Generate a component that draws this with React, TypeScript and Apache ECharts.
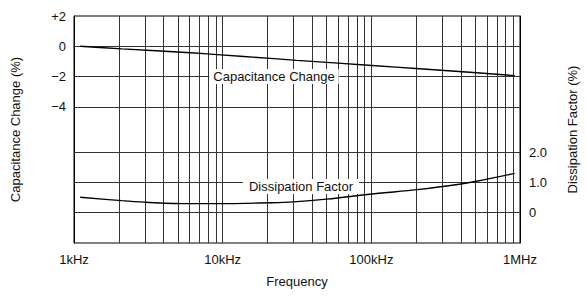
import React, { useEffect, useRef } from "react";
import * as echarts from "echarts";

// Capacitance change (%) vs frequency (Hz)
const capFreq = [1100, 2100, 6050, 9200, 21000, 31500, 101000, 211000, 512000, 922000];
const capValues = [0, -0.17, -0.43, -0.55, -0.8, -0.93, -1.27, -1.49, -1.75, -1.94];

// Dissipation factor (%) vs frequency (Hz)
const dfFreq = [1100, 2100, 3200, 6000, 9200, 21000, 30000, 50000, 101000, 211000, 400000, 510000, 920000];
const dfValues = [0.51, 0.4, 0.34, 0.3, 0.3, 0.33, 0.36, 0.45, 0.62, 0.77, 0.95, 1.04, 1.3];

// Grid lines
const verticalGridFreqs = [
  2000, 3000, 4000, 5000, 6000, 7000, 8000, 9000, 10000,
  20000, 30000, 40000, 50000, 60000, 70000, 80000, 90000, 100000,
  200000, 300000, 400000, 500000, 600000, 700000, 800000, 900000,
];
const capGridValues = [0, -2, -4];
const dfGridValues = [0, 1, 2];

// Tick labels
const freqTickLabels: Record<number, string> = { 1000: "1kHz", 10000: "10kHz", 100000: "100kHz", 1000000: "1MHz" };
const capTickLabels: Record<number, string> = { 2: "+2", 0: "0", "-2": "\u22122", "-4": "\u22124" } as any;
const dfTickLabels: Record<number, string> = { 0: "0", 1: "1.0", 2: "2.0" };

const FONT = "Liberation Sans, Arial, Helvetica, sans-serif";
const GRID_COLOR = "#333";

export default function App() {
  const ref = useRef<HTMLDivElement>(null);
  useEffect(() => {
    if (!ref.current) return;
    const chart = echarts.init(ref.current, undefined, { renderer: "svg" });
    const lineStyle = { color: GRID_COLOR, width: 1, type: "solid" as const };
    chart.setOption({
      animation: false,
      textStyle: { fontFamily: FONT },
      grid: {
        left: 74,
        right: 60,
        top: 16,
        bottom: 54,
        show: true,
        borderColor: "#000",
        borderWidth: 1,
        backgroundColor: "transparent",
      },
      xAxis: {
        type: "log",
        logBase: 10,
        min: 1000,
        max: 1000000,
        name: "Frequency",
        nameLocation: "middle",
        nameGap: 32,
        nameTextStyle: { fontSize: 13, color: "#111", fontFamily: FONT },
        axisLine: { show: true, lineStyle: { color: "#000" } },
        axisTick: { show: false },
        splitLine: { show: true, lineStyle: { color: GRID_COLOR, width: 1 } },
        minorSplitLine: { show: false },
        axisLabel: {
          fontSize: 13,
          color: "#111",
          margin: 10,
          fontFamily: FONT,
          formatter: (v: number) => freqTickLabels[Math.round(v)] ?? "",
        },
      },
      yAxis: [
        {
          type: "value",
          min: -13,
          max: 2,
          interval: 1,
          position: "left",
          name: "Capacitance Change (%)",
          nameLocation: "middle",
          nameGap: 52,
          nameTextStyle: { fontSize: 13, color: "#111", fontFamily: FONT },
          axisLine: { show: true, lineStyle: { color: "#000" } },
          axisTick: { show: false },
          splitLine: { show: false },
          axisLabel: {
            fontSize: 13,
            color: "#111",
            margin: 8,
            fontFamily: FONT,
            formatter: (v: number) => capTickLabels[Math.round(v)] ?? "",
          },
        },
        {
          type: "value",
          min: -1,
          max: 6.5,
          interval: 1,
          position: "right",
          name: "Dissipation Factor (%)",
          nameLocation: "middle",
          nameGap: 46,
          nameTextStyle: { fontSize: 13, color: "#111", fontFamily: FONT },
          axisLine: { show: true, lineStyle: { color: "#000" } },
          axisTick: { show: false },
          splitLine: { show: false },
          axisLabel: {
            fontSize: 13,
            color: "#111",
            margin: 9,
            fontFamily: FONT,
            formatter: (v: number) => dfTickLabels[Math.round(v * 10) / 10] ?? "",
          },
        },
      ],
      series: [
        {
          type: "line",
          name: "Capacitance Change",
          yAxisIndex: 0,
          smooth: 0.3,
          showSymbol: false,
          z: 5,
          data: capFreq.map((f, i) => [f, capValues[i]]),
          lineStyle: { color: "#000", width: 1.4 },
          markLine: {
            silent: true,
            symbol: "none",
            label: { show: false },
            lineStyle,
            data: [
              ...verticalGridFreqs.map((f) => ({ xAxis: f })),
              ...capGridValues.map((v) => ({ yAxis: v })),
            ],
          },
        },
        {
          type: "line",
          name: "Dissipation Factor",
          yAxisIndex: 1,
          smooth: 0.4,
          showSymbol: false,
          z: 5,
          data: dfFreq.map((f, i) => [f, dfValues[i]]),
          lineStyle: { color: "#000", width: 1.4 },
          markLine: {
            silent: true,
            symbol: "none",
            label: { show: false },
            lineStyle,
            data: dfGridValues.map((v) => ({ yAxis: v })),
          },
        },
      ],
      graphic: [
        {
          type: "text",
          z: 10,
          style: {
            text: "Capacitance Change",
            x: 274,
            y: 76.5,
            align: "center",
            verticalAlign: "middle",
            font: `13px ${FONT}`,
            fill: "#111",
            backgroundColor: "#fff",
            padding: [1, 4],
          },
        },
        {
          type: "text",
          z: 10,
          style: {
            text: "Dissipation Factor",
            x: 301,
            y: 186.5,
            align: "center",
            verticalAlign: "middle",
            font: `13px ${FONT}`,
            fill: "#111",
            backgroundColor: "#fff",
            padding: [1, 6],
          },
        },
      ],
    });
    return () => chart.dispose();
  }, []);
  return (
    <div
      ref={ref}
      style={{ width: 587, height: 297, position: "absolute", left: 0, top: 0, background: "#fff" }}
    />
  );
}
